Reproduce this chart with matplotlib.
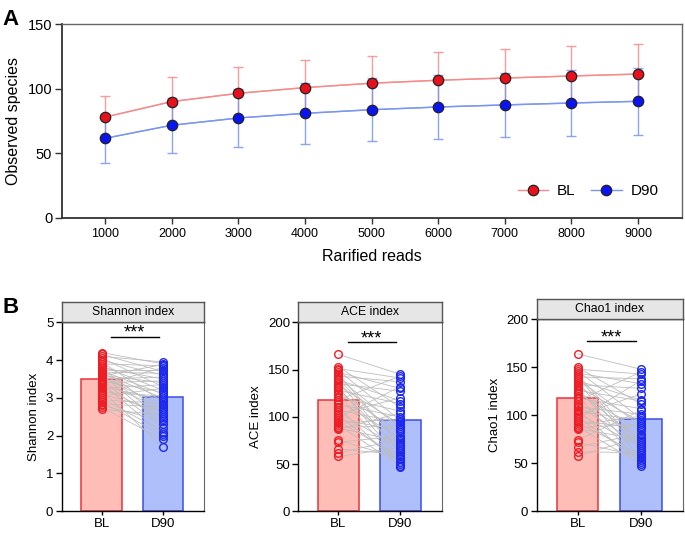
import matplotlib
matplotlib.use("Agg")
import matplotlib.pyplot as plt
import numpy as np

plt.rcParams['font.family'] = ['Liberation Sans', 'DejaVu Sans']

# ---- panel A: rarefaction curves ----
reads = [1000, 2000, 3000, 4000, 5000, 6000, 7000, 8000, 9000]
bl_mean = [78, 90, 96.4, 100.8, 104.2, 106.5, 108.2, 109.8, 111.3]
bl_sd = [16, 19, 20, 21, 21.3, 22, 22.7, 23, 23.2]
d90_mean = [61.6, 71.7, 77.3, 80.9, 83.7, 85.8, 87.4, 88.9, 90.2]
d90_sd = [18.8, 21.4, 22.4, 23.4, 24.2, 24.7, 24.8, 25.2, 25.8]

# ---- panel B: paired alpha diversity (subjects in the same order in BL and D90) ----
groups = ["BL", "D90"]
shannon_bl = [4.2, 4.15, 4.1, 4.05, 4.0, 3.95, 3.9, 3.85, 3.8, 3.78, 3.75, 3.72, 3.7, 3.68,
              3.65, 3.62, 3.6, 3.58, 3.55, 3.5, 3.48, 3.45, 3.42, 3.4, 3.38, 3.35, 3.3, 3.28,
              3.25, 3.2, 3.15, 3.1, 3.05, 3.0, 2.95, 2.9, 2.85, 2.8, 2.75, 2.7]
shannon_d90 = [3.9, 3.7, 3.95, 3.3, 3.6, 2.9, 3.85, 3.2, 3.5, 2.6, 3.75, 3.1, 2.45, 3.65,
               3.0, 2.3, 3.4, 3.88, 2.8, 3.55, 2.2, 3.15, 2.7, 3.45, 2.05, 3.8, 2.95, 2.5,
               3.35, 1.7, 3.05, 2.65, 3.25, 2.1, 2.85, 2.0, 2.75, 2.4, 1.9, 2.55]
ace_bl = [166, 153, 151, 149, 147, 145, 143, 141, 139, 137, 135, 133, 131, 128, 126, 124,
          121, 118, 116, 113, 110, 107, 105, 103, 101, 99, 97, 95, 93, 91, 89, 88, 87, 75,
          73, 66, 62, 58, 140, 130]
ace_d90 = [145, 110, 141, 96, 130, 70, 137, 88, 117, 62, 127, 92, 55, 114, 84, 50, 106, 143,
           78, 100, 47, 94, 66, 120, 52, 132, 86, 58, 98, 48, 90, 74, 104, 56, 80, 60, 76,
           68, 72, 64]
chao_bl = [164, 150, 148, 146, 144, 142, 140, 138, 136, 134, 132, 130, 128, 126, 123, 120,
           118, 115, 112, 109, 106, 104, 102, 100, 98, 96, 94, 92, 90, 88, 87, 86, 74, 72,
           67, 62, 58, 110, 125, 140]
chao_d90 = [148, 112, 143, 97, 133, 71, 138, 89, 116, 63, 128, 93, 56, 115, 85, 51, 107, 145,
            79, 101, 47, 95, 67, 122, 53, 136, 87, 59, 99, 49, 91, 75, 105, 57, 81, 61, 77,
            69, 73, 65]
bar_means = {"Shannon index": [3.5, 3.03], "ACE index": [118.2, 96.1], "Chao1 index": [118.5, 96.4]}
sig_y = {"Shannon index": 4.62, "ACE index": 178.6, "Chao1 index": 177.5}

red_line = "#f58c8c"
blue_line = "#7a96f0"

fig = plt.figure(figsize=(6.85, 5.34), dpi=100)

# ---------------- panel A ----------------
axA = fig.add_axes([0.0905, 0.592, 0.905, 0.363])
axA.errorbar(reads, bl_mean, yerr=bl_sd, color=red_line, lw=1, capsize=3.5, capthick=1,
             ecolor=red_line, elinewidth=1, alpha=0.85, zorder=2)
axA.errorbar(reads, d90_mean, yerr=d90_sd, color=blue_line, lw=1, capsize=3.5, capthick=1,
             ecolor=blue_line, elinewidth=1, alpha=0.85, zorder=2)
axA.plot(reads, bl_mean, 'o', color=red_line, mfc="#e8101a", mec="#222222", ms=7.5, mew=0.9,
         label="BL", ls='-', lw=1, zorder=3)
axA.plot(reads, d90_mean, 'o', color=blue_line, mfc="#0a14f0", mec="#222222", ms=7.5, mew=0.9,
         label="D90", ls='-', lw=1, zorder=3)
axA.set_xlim(350, 9660)
axA.set_ylim(0, 150)
axA.set_xticks(reads)
axA.set_yticks([0, 50, 100, 150])
axA.tick_params(axis='x', labelsize=9, length=4, width=1, color="#333333")
axA.tick_params(axis='y', labelsize=10.5, length=5, width=1, color="#333333", pad=2)
for s in ["left", "bottom"]:
    axA.spines[s].set_color("#333333")
    axA.spines[s].set_linewidth(1.3)
for s in ["top", "right"]:
    axA.spines[s].set_color("#666666")
    axA.spines[s].set_linewidth(1)
axA.set_ylabel("Observed species", fontsize=11.5, labelpad=5)
axA.set_xlabel("Rarified reads", fontsize=11.5, labelpad=6)
axA.legend(loc="lower right", ncol=2, frameon=False, fontsize=11, handlelength=2,
           columnspacing=1.0, handletextpad=0.6, bbox_to_anchor=(0.985, 0.03))
fig.text(0.004, 0.963, "A", fontsize=16, fontweight="bold", va="center")

# ---------------- panel B ----------------
panels = [
    ("Shannon index", shannon_bl, shannon_d90, [0.090, 0.0425, 0.2077, 0.3540], 5, 1),
    ("ACE index", ace_bl, ace_d90, [0.4355, 0.0425, 0.2093, 0.3540], 200, 50),
    ("Chao1 index", chao_bl, chao_d90, [0.7835, 0.0425, 0.2135, 0.3596], 200, 50),
]
bar_face = ["#ffbdb8", "#aebffb"]
bar_edge = ["#e8333a", "#3a4ee8"]
pt_edge = ["#f01c24", "#1c28f0"]
strip_h = 20 / 534

for name, vbl, vd90, rect, ymax, ystep in panels:
    ax = fig.add_axes(rect)
    means = bar_means[name]
    ax.bar([0, 1], means, width=0.66, color=bar_face, edgecolor=bar_edge, linewidth=1.1, zorder=1)
    for a, b in zip(vbl, vd90):
        ax.plot([0, 1], [a, b], color="#bdbdbd", lw=0.6, zorder=2)
    ax.plot(np.zeros(len(vbl)), vbl, 'o', mfc="none", mec=pt_edge[0], ms=5.5, mew=1, ls='none', zorder=3)
    ax.plot(np.ones(len(vd90)), vd90, 'o', mfc="none", mec=pt_edge[1], ms=5.5, mew=1, ls='none', zorder=3)
    ax.plot([0.15, 0.93], [sig_y[name], sig_y[name]], color="black", lw=1)
    ax.text(0.54, sig_y[name] - ymax * 0.006, "***", ha="center", va="baseline", fontsize=13)
    ax.set_xlim(-0.65, 1.67)
    ax.set_ylim(0, ymax)
    ax.set_yticks(np.arange(0, ymax + ystep, ystep))
    ax.set_xticks([0, 1])
    ax.set_xticklabels(groups)
    ax.tick_params(axis='x', labelsize=9.5, length=3, width=1, pad=2)
    ax.tick_params(axis='y', labelsize=9.5, length=4, width=1, pad=2)
    ax.set_ylabel(name, fontsize=9.5)
    for s in ["left", "bottom", "top"]:
        ax.spines[s].set_color("black")
        ax.spines[s].set_linewidth(1)
    ax.spines["right"].set_color("#666666")
    # grey strip with the index name
    strip = fig.add_axes([rect[0], rect[1] + rect[3], rect[2], strip_h])
    strip.set_facecolor("#e6e6e6")
    strip.set_xticks([])
    strip.set_yticks([])
    for s in strip.spines.values():
        s.set_color("#555555")
        s.set_linewidth(1)
    strip.text(0.5, 0.5, name, ha="center", va="center", fontsize=8.8, transform=strip.transAxes)

fig.text(0.004, 0.424, "B", fontsize=16, fontweight="bold", va="center")

fig.savefig("out.png", dpi=100)
